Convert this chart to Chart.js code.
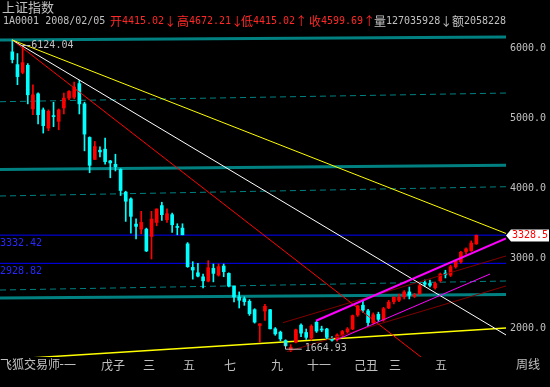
<!DOCTYPE html>
<html>
<head>
<meta charset="utf-8">
<script src="https://cdn.jsdelivr.net/npm/chart.js@4/dist/chart.umd.min.js"></script>
<style>
  html, body { margin: 0; padding: 0; background: #000; }
  #wrap { width: 550px; height: 387px; }
</style>
</head>
<body>
<div id="wrap"><canvas id="kline" width="550" height="387"></canvas></div>
<script>
// Weekly candles of 上证指数, one entry per week (index 0 = the 6124.04 top week)
const opens = [5954, 5772, 5660, 5762, 5138, 5354, 5124, 4864, 5042, 4960,
  5152, 5292, 5306, 5500, 5210, 4730, 4415.02, 4547, 4562, 4394,
  4346, 4273, 3947, 3851, 3490, 3418, 3418, 3313, 3514, 3755,
  3553, 3625, 3457, 3433, 3207, 2871, 2794, 2736, 2674, 2857,
  2760, 2890, 2785, 2602, 2448, 2424, 2386, 2266, 2040, 2246,
  2266, 1992, 1944, 1824, 1689, 1800, 2045, 1940, 1860, 2085,
  1990, 1990, 1855, 1840, 1900, 1950, 1990, 2190, 2330, 2250,
  2080, 2200, 2120, 2290, 2380, 2400, 2450, 2520, 2460, 2496,
  2650, 2640, 2580, 2680, 2790, 2760, 2880, 2950, 3097, 3110, 3207];
const highs = [6124.04, 5930, 6026, 5786, 5484, 5369, 5152, 5124, 5234, 5138,
  5364, 5402, 5522, 5546, 5234, 4739, 4672.21, 4595, 4720, 4403,
  4490, 4283, 3961, 3865, 3567, 3673, 3433, 3673, 3707, 3803,
  3707, 3649, 3495, 3495, 3226, 2953, 2929, 2775, 2967, 2919,
  2919, 2919, 2794, 2602, 2520, 2450, 2410, 2280, 2064, 2342,
  2270, 2010, 1960, 1835, 1766, 1990, 2065, 1990, 2050, 2100,
  2030, 2000, 1880, 1920, 1970, 2010, 2190, 2330, 2402, 2270,
  2220, 2230, 2300, 2400, 2450, 2490, 2540, 2590, 2500, 2630,
  2690, 2690, 2660, 2790, 2830, 2900, 2970, 3100, 3150, 3250, 3335];
const lows = [5796, 5484, 5640, 5210, 5056, 4922, 4792, 4826, 4883, 4840,
  5066, 5268, 5282, 5066, 4538, 4225, 4415.02, 4451, 4346, 4153,
  4250, 3899, 3529, 3361, 3279, 3351, 3097, 2991, 3466, 3543,
  3514, 3370, 3337, 3337, 2871, 2703, 2736, 2578, 2664, 2664,
  2746, 2737, 2592, 2376, 2290, 2328, 2184, 2074, 1800, 2112,
  1990, 1900, 1820, 1740, 1664.93, 1790, 1880, 1840, 1830, 1940,
  1950, 1850, 1815, 1815, 1880, 1930, 1980, 2170, 2230, 2037,
  2060, 2100, 2100, 2280, 2350, 2380, 2420, 2420, 2440, 2480,
  2600, 2590, 2560, 2660, 2720, 2740, 2860, 2930, 3060, 3100, 3200];
const closes = [5844, 5600, 5800, 5340, 5340, 5056, 4898, 5104, 5028, 5124,
  5292, 5388, 5450, 5210, 4778, 4331, 4599.69, 4523, 4384, 4365,
  4312, 3971, 3817, 3601, 3457, 3514, 3106, 3562, 3707, 3625,
  3639, 3481, 3442, 3337, 2881, 2833, 2746, 2679, 2866, 2785,
  2881, 2809, 2602, 2448, 2400, 2380, 2208, 2088, 2064, 2314,
  1992, 1920, 1848, 1752, 1728, 1978, 1930, 1870, 2029, 1960,
  1975, 1870, 1830, 1904, 1954, 1990, 2181, 2320, 2261, 2082,
  2193, 2128, 2281, 2374, 2445, 2444, 2519, 2473, 2477, 2610,
  2630, 2615, 2640, 2775, 2764, 2880, 2959, 3088, 3135, 3220, 3328.5];

// axis ticks
const priceTicks = [2000, 3000, 4000, 5000, 6000];
const monthTickPos = [10.03, 19.53, 26.51, 34.27, 42.22, 51.34, 59.48, 68.6, 74.2, 83.15];
const monthTickLabels = ['十一', '戊子', '三', '五', '七', '九', '十一', '己丑', '三', '五'];

// drawn study lines, [value at left edge, value at right edge]
const tealLevels = [[6124, 6167], [4271, 4331], [2433, 2483]];
const dashLevels = [[5241, 5365], [3892, 4025], [2547, 2676]];
const blueLevels = [3332.42, 2928.82];
const bottomLine = [1548, 2004];
// fan lines from the top candle: value reached at the right edge
const fanEnds = [3356, 1904, 645];
const fanColors = ['#ffff00', '#ffffff', '#ff0000'];
// channels: [startIndex, startValue, endIndex, endValue]
const magentaUpper = [58.9, 2108, 95.75, 3284];
const magentaLower = [62.8, 1832, 92.65, 2776];
const darkRedUpper = [52.5, 2080, 95.75, 3034];
const darkRedLower = [53.3, 1665, 95.75, 2605];

const X_MIN = -2.386, X_MAX = 95.75;
const Y_MIN = 1589, Y_MAX = 6224;

const UP = '#ff0000';
const DOWN = '#00ffff';
const GREY = '#c0c0c0';
const MONO = '10px "DejaVu Sans Mono", monospace';
const CJK = '12px "Noto Sans CJK SC", sans-serif';

const idx = opens.map((_, i) => i);
const candleColor = ctx => closes[ctx.dataIndex] >= opens[ctx.dataIndex] ? UP : DOWN;

function lineSet(points, color, width, dash, order) {
    return {
        type: 'line',
        data: points.map(p => ({ x: p[0], y: p[1] })),
        borderColor: color,
        borderWidth: width,
        borderDash: dash || [],
        pointRadius: 0,
        fill: false,
        tension: 0,
        order: order
    };
}

// draw a string mixing CJK glyphs (and arrows) with mono digits
function drawMixed(ctx, str, x, y, color) {
    ctx.fillStyle = color;
    ctx.textAlign = 'left';
    ctx.textBaseline = 'middle';
    for (const ch of str) {
        ctx.font = /[\u4e00-\u9fff\u2190-\u21ff]/.test(ch) ? CJK : MONO;
        ctx.fillText(ch, x, y);
        x += ctx.measureText(ch).width;
    }
    return x;
}

const datasets = [];

// level lines behind the candles
tealLevels.forEach(l => datasets.push(lineSet([[X_MIN, l[0]], [X_MAX, l[1]]], '#008080', 3, null, 5)));
dashLevels.forEach(l => datasets.push(lineSet([[X_MIN, l[0]], [X_MAX, l[1]]], '#008080', 1, [6, 4], 5)));
blueLevels.forEach(v => datasets.push(lineSet([[X_MIN, v], [X_MAX, v]], '#0000ff', 1, null, 5)));
datasets.push(lineSet([[X_MIN, bottomLine[0]], [X_MAX, bottomLine[1]]], '#ffff00', 1.5, null, 5));

// candles: wick + body as floating bars
datasets.push({
    type: 'bar',
    data: idx.map(i => ({ x: i, y: [lows[i], highs[i]] })),
    backgroundColor: candleColor,
    barThickness: 1,
    grouped: false,
    order: 4
});
datasets.push({
    type: 'bar',
    data: idx.map(i => ({ x: i, y: [opens[i], closes[i]] })),
    backgroundColor: candleColor,
    barThickness: 3,
    minBarLength: 1,
    grouped: false,
    order: 3
});

// fan lines and channels on top
fanEnds.forEach((v, k) => datasets.push(lineSet([[0, highs[0]], [X_MAX, v]], fanColors[k], 1, null, 1)));
datasets.push(lineSet([[darkRedUpper[0], darkRedUpper[1]], [darkRedUpper[2], darkRedUpper[3]]], '#800000', 1, null, 1));
datasets.push(lineSet([[darkRedLower[0], darkRedLower[1]], [darkRedLower[2], darkRedLower[3]]], '#800000', 1, null, 1));
datasets.push(lineSet([[magentaUpper[0], magentaUpper[1]], [magentaUpper[2], magentaUpper[3]]], '#ff00ff', 2, null, 0));
datasets.push(lineSet([[magentaLower[0], magentaLower[1]], [magentaLower[2], magentaLower[3]]], '#ff00ff', 1, null, 0));

// black backdrop plus all the text overlays
const overlay = {
    id: 'overlay',
    beforeDraw(chart) {
        const ctx = chart.ctx;
        ctx.save();
        ctx.fillStyle = '#000';
        ctx.fillRect(0, 0, chart.width, chart.height);
        ctx.restore();
    },
    afterDraw(chart) {
        const ctx = chart.ctx;
        const xs = chart.scales.x, ys = chart.scales.y;
        const area = chart.chartArea;
        ctx.save();

        // header
        ctx.font = '13px "Noto Sans CJK SC", sans-serif';
        ctx.fillStyle = GREY;
        ctx.textBaseline = 'middle';
        ctx.fillText('上证指数', 2, 7);
        ctx.save();
        ctx.beginPath();
        ctx.rect(0, 0, area.right, 30);
        ctx.clip();
        drawMixed(ctx, '1A0001 2008/02/05', 3, 21, GREY);
        drawMixed(ctx, '开4415.02↓', 110, 21, '#ff2828');
        drawMixed(ctx, '高4672.21↓', 177, 21, '#ff2828');
        drawMixed(ctx, '低4415.02↑', 241, 21, '#ff2828');
        drawMixed(ctx, '收4599.69↑', 309, 21, '#ff2828');
        drawMixed(ctx, '量127035928↓', 374, 21, GREY);
        drawMixed(ctx, '额20582286', 452, 21, GREY);
        ctx.restore();

        // blue level captions
        ctx.font = MONO;
        ctx.fillStyle = '#2828ff';
        ctx.textBaseline = 'top';
        blueLevels.forEach(v => ctx.fillText(v.toFixed(2), 0, ys.getPixelForValue(v) + 3));

        // top and bottom markers
        ctx.strokeStyle = GREY;
        ctx.lineWidth = 1;
        ctx.textBaseline = 'middle';
        ctx.fillStyle = GREY;
        const px = xs.getPixelForValue(0), py = ys.getPixelForValue(highs[0]);
        ctx.beginPath();
        ctx.moveTo(px + 9, py + 5.5);
        ctx.lineTo(px + 18, py + 5.5);
        ctx.stroke();
        ctx.fillText(highs[0].toFixed(2), px + 19, py + 5);

        const lowIdx = lows.indexOf(Math.min(...lows));
        const lx = xs.getPixelForValue(lowIdx), ly = ys.getPixelForValue(lows[lowIdx]);
        ctx.beginPath();
        ctx.moveTo(Math.round(lx - 6) + 0.5, ly - 9);
        ctx.lineTo(Math.round(lx - 6) + 0.5, ly - 2.5);
        ctx.lineTo(lx + 11, ly - 2.5);
        ctx.stroke();
        ctx.fillText(lows[lowIdx].toFixed(2), lx + 14, ly - 3);

        // last price tag on the axis
        const last = closes[closes.length - 1];
        const ty = ys.getPixelForValue(last);
        ctx.fillStyle = '#ffffff';
        ctx.beginPath();
        ctx.moveTo(area.right, ty);
        ctx.lineTo(area.right + 5, ty - 6);
        ctx.lineTo(549, ty - 6);
        ctx.lineTo(549, ty + 6);
        ctx.lineTo(area.right + 5, ty + 6);
        ctx.closePath();
        ctx.fill();
        ctx.fillStyle = '#ff0000';
        ctx.fillText(last.toFixed(1), area.right + 6, ty);

        // footer captions
        ctx.fillStyle = '#000';
        ctx.fillRect(0, area.bottom + 1, 60, 16);
        ctx.font = CJK;
        ctx.fillStyle = GREY;
        ctx.fillText('飞狐交易师', 0, 364);
        ctx.fillText('周线', 516, 364);
        ctx.restore();
    }
};

new Chart(document.getElementById('kline'), {
    type: 'bar',
    data: { datasets: datasets },
    plugins: [overlay],
    options: {
        responsive: false,
        animation: false,
        devicePixelRatio: 1,
        layout: { padding: { top: 33, left: 0, right: 0, bottom: 0 } },
        plugins: { legend: { display: false }, tooltip: { enabled: false }, title: { display: false } },
        scales: {
            x: {
                type: 'linear',
                min: X_MIN,
                max: X_MAX,
                offset: false,
                grid: { display: false, drawTicks: false },
                border: { display: false },
                afterFit: scale => { scale.height = 30; },
                afterBuildTicks: scale => { scale.ticks = monthTickPos.map(v => ({ value: v })); },
                ticks: {
                    autoSkip: false,
                    maxRotation: 0,
                    padding: 1,
                    color: GREY,
                    font: { family: 'Noto Sans CJK SC', size: 12 },
                    callback: (value, i) => monthTickLabels[i]
                }
            },
            y: {
                type: 'linear',
                position: 'right',
                min: Y_MIN,
                max: Y_MAX,
                grid: { display: false, drawTicks: false },
                border: { display: false },
                afterFit: scale => { scale.width = 44; },
                afterBuildTicks: scale => { scale.ticks = priceTicks.map(v => ({ value: v })); },
                ticks: {
                    padding: 4,
                    color: GREY,
                    font: { family: 'DejaVu Sans Mono', size: 10 },
                    callback: v => v.toFixed(1)
                }
            }
        }
    }
});
</script>
</body>
</html>
